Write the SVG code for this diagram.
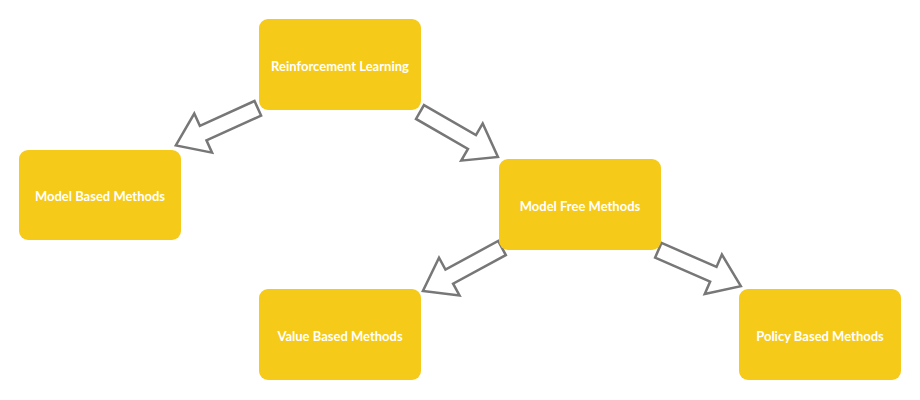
<svg xmlns="http://www.w3.org/2000/svg" width="920" height="400" viewBox="0 0 920 400">
<defs>
<style>
.box{fill:#F6CA18;}
.lbl{font-family:Lato,"Liberation Sans",sans-serif;font-size:13px;font-weight:bold;fill:#ffffff;text-anchor:middle;dominant-baseline:central;}
.arr{fill:#ffffff;stroke:#777777;stroke-width:2.5;stroke-linejoin:miter;}
</style>
<polygon id="arrowShape" class="arr" points="0,-8 60,-8 60,-21.5 90,0 60,21.5 60,8 0,8"/>
</defs>
<rect width="920" height="400" fill="#ffffff"/>
<g id="connectors">
<use href="#arrowShape" transform="translate(257.8,108.3) rotate(155.6)"/>
<use href="#arrowShape" transform="translate(420,112) rotate(30)"/>
<use href="#arrowShape" transform="translate(502,248) rotate(151.5)"/>
<use href="#arrowShape" transform="translate(658.3,250.3) rotate(23.5)"/>
</g>
<g id="rl">
<rect class="box" x="259" y="19" width="162" height="91" rx="9"/>
<text class="lbl" x="340" y="66">Reinforcement Learning</text>
</g>
<g id="model-based">
<rect class="box" x="19" y="150" width="162" height="90" rx="9"/>
<text class="lbl" x="100" y="196">Model Based Methods</text>
</g>
<g id="model-free">
<rect class="box" x="499" y="159" width="162" height="91" rx="9"/>
<text class="lbl" x="580" y="206">Model Free Methods</text>
</g>
<g id="value-based">
<rect class="box" x="259" y="289" width="162" height="91" rx="9"/>
<text class="lbl" x="340" y="336">Value Based Methods</text>
</g>
<g id="policy-based">
<rect class="box" x="739" y="289" width="162" height="91" rx="9"/>
<text class="lbl" x="820" y="336">Policy Based Methods</text>
</g>
</svg>
